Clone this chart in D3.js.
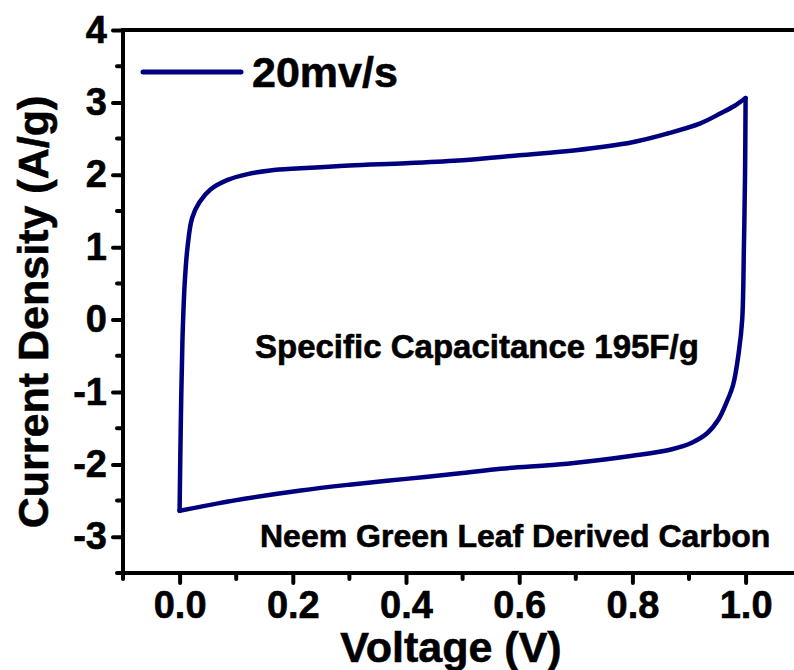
<!DOCTYPE html>
<html>
<head>
<meta charset="utf-8">
<script src="https://cdn.jsdelivr.net/npm/d3@7"></script>
<style>
  body { margin: 0; background: #fff; }
  svg text { font-family: "Liberation Sans", Arial, sans-serif; font-weight: bold; fill: #000; stroke: #000; stroke-width: 0.6px; }
</style>
</head>
<body>
<div id="chart"></div>
<script>
// data: forward scan 0 -> 1 V, then back 1 -> 0 V
const fwdVoltage = [0.000, 0.002, 0.005, 0.009, 0.014, 0.022, 0.035, 0.055, 0.085, 0.120, 0.160, 0.214, 0.300, 0.400, 0.500, 0.600, 0.700, 0.800, 0.862, 0.920, 0.956, 0.980, 1.000]
const fwdCurrent = [-2.64, -1.50, -0.30, 0.50, 1.00, 1.40, 1.62, 1.80, 1.93, 2.01, 2.06, 2.09, 2.13, 2.16, 2.20, 2.27, 2.34, 2.45, 2.57, 2.71, 2.85, 2.95, 3.06]
const revVoltage = [1.000, 0.999, 0.997, 0.994, 0.988, 0.978, 0.966, 0.952, 0.932, 0.905, 0.870, 0.800, 0.685, 0.567, 0.500, 0.400, 0.300, 0.214, 0.095, 0.000]
const revCurrent = [3.06, 2.00, 1.00, 0.00, -0.45, -0.90, -1.15, -1.38, -1.57, -1.70, -1.79, -1.88, -1.99, -2.06, -2.12, -2.20, -2.28, -2.36, -2.50, -2.64]

const xMajor = [0.0, 0.2, 0.4, 0.6, 0.8, 1.0]
const xMinor = [-0.1, 0.1, 0.3, 0.5, 0.7, 0.9, 1.1]
const yMajor = [-3, -2, -1, 0, 1, 2, 3, 4]
const yMinor = [-3.5, -2.5, -1.5, -0.5, 0.5, 1.5, 2.5, 3.5]

const legendLabel = "20mv/s"
const note1 = "Specific Capacitance 195F/g"
const note2 = "Neem Green Leaf Derived Carbon"

// const
const width = 794
const height = 670
const margin = { top: 30, bottom: 97, left: 123, right: 0 }
const lineColor = "#00007f"

const svg = d3.select("#chart")
  .append("svg")
    .attr("width", width)
    .attr("height", height)

const x = d3.scaleLinear()
  .domain([-0.1, 1.1])
  .range([margin.left, margin.left + 1.2 * 566])

const y = d3.scaleLinear()
  .domain([-3.5, 4])
  .range([height - margin.bottom, margin.top])

// axes
const xAxisGroup = svg.append("g")
  .attr("transform", `translate(0, ${y(-3.5)})`)
  .call(d3.axisBottom(x).tickValues(xMajor).tickFormat(d => d.toFixed(1)).tickSize(10).tickPadding(10))
const yAxisGroup = svg.append("g")
  .attr("transform", `translate(${x(-0.1)}, 0)`)
  .call(d3.axisLeft(y).tickValues(yMajor).tickFormat(d => String(d)).tickSize(10).tickPadding(6))

xAxisGroup.selectAll(".tick")
  .data(xMinor, function(d) { return d })
  .enter().append("g").attr("class", "tick")
    .attr("transform", d => `translate(${x(d)},0)`)
    .append("line").attr("y2", 6)
yAxisGroup.selectAll(".tick")
  .data(yMinor, function(d) { return d })
  .enter().append("g").attr("class", "tick")
    .attr("transform", d => `translate(0,${y(d)})`)
    .append("line").attr("x2", -6)

svg.selectAll(".domain").remove()
svg.selectAll(".tick line")
  .attr("stroke", "#000")
  .attr("stroke-width", 4)
  .attr("stroke-linecap", "round")
svg.selectAll(".tick text").attr("font-size", 38).style("font-family", "'Liberation Sans', Arial, sans-serif")
xAxisGroup.selectAll(".tick text").attr("dy", "0.66em")

// frame: left, bottom, top
svg.append("path")
  .attr("d", `M${width},${y(4)}H${x(-0.1)}V${y(-3.5)}H${width}`)
  .attr("fill", "none")
  .attr("stroke", "#000")
  .attr("stroke-width", 4)

// curve, one path per scan direction so the turning corners stay sharp
const fwd = fwdVoltage.map((v, i) => [v, fwdCurrent[i]])
const rev = revVoltage.map((v, i) => [v, revCurrent[i]])
const line = d3.line()
  .x(d => x(d[0]))
  .y(d => y(d[1]))
  .curve(d3.curveCatmullRom.alpha(0.5))

svg.selectAll(".cv")
  .data([fwd, rev])
  .enter().append("path")
    .attr("class", "cv")
    .attr("fill", "none")
    .attr("stroke", lineColor)
    .attr("stroke-width", 4.5)
    .attr("stroke-linecap", "round")
    .attr("d", line)

// legend
svg.append("line")
  .attr("x1", 143).attr("x2", 241)
  .attr("y1", 72).attr("y2", 72)
  .attr("stroke", lineColor)
  .attr("stroke-width", 5)
  .attr("stroke-linecap", "round")
svg.append("text")
  .attr("x", 252).attr("y", 87)
  .attr("font-size", 43)
  .text(legendLabel)

// notes
svg.append("text")
  .attr("x", 255).attr("y", 358)
  .attr("font-size", 33)
  .text(note1)
svg.append("text")
  .attr("x", 260).attr("y", 547)
  .attr("font-size", 32)
  .text(note2)

// axis titles
svg.append("text")
  .attr("x", 451).attr("y", 662)
  .attr("text-anchor", "middle")
  .attr("font-size", 43)
  .text("Voltage (V)")
svg.append("text")
  .attr("transform", "translate(48, 312) rotate(-90)")
  .attr("text-anchor", "middle")
  .attr("font-size", 43)
  .text("Current Density (A/g)")
</script>
</body>
</html>
